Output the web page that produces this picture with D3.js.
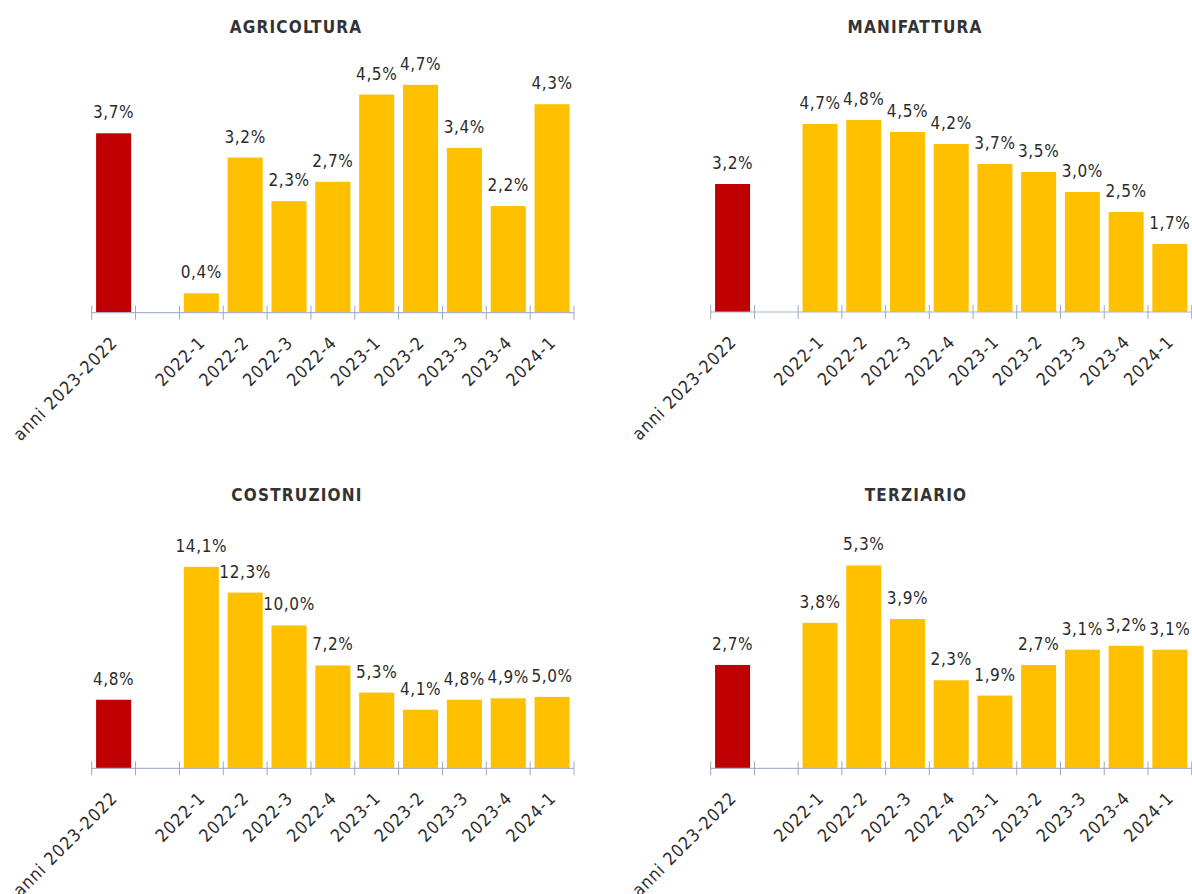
<!DOCTYPE html>
<html>
<head>
<meta charset="utf-8">
<script src="https://cdn.jsdelivr.net/npm/d3@7"></script>
<style>
  body { margin: 0; background: #fff; }
  svg text { font-family: "DejaVu Sans Condensed", "DejaVu Sans", sans-serif; fill: #2b2b2b; }
</style>
</head>
<body>
<div id="chart-area"></div>
<script>
var categories = ["anni 2023-2022", "", "2022-1", "2022-2", "2022-3", "2022-4",
                  "2023-1", "2023-2", "2023-3", "2023-4", "2024-1"];
var titles = ["AGRICOLTURA", "MANIFATTURA", "COSTRUZIONI", "TERZIARIO"];
var agricoltura = [3.7, null, 0.4, 3.2, 2.3, 2.7, 4.5, 4.7, 3.4, 2.2, 4.3];
var manifattura = [3.2, null, 4.7, 4.8, 4.5, 4.2, 3.7, 3.5, 3.0, 2.5, 1.7];
var costruzioni = [4.8, null, 14.1, 12.3, 10.0, 7.2, 5.3, 4.1, 4.8, 4.9, 5.0];
var terziario   = [2.7, null, 3.8, 5.3, 3.9, 2.3, 1.9, 2.7, 3.1, 3.2, 3.1];

var width = 1192, height = 894;
var plotH = 240;

// panel layout: axis span, baseline, y max, title position
var panels = [
  {values: agricoltura, x0: 91.7,  x1: 574,    base: 312.7, yMax: 4.95, tx: 296, ty: 33},
  {values: manifattura, x0: 710.7, x1: 1191.7, base: 312,   yMax: 6.0,  tx: 915, ty: 32.5},
  {values: costruzioni, x0: 91.7,  x1: 574,    base: 768.3, yMax: 16.8, tx: 297, ty: 501},
  {values: terziario,   x0: 710.7, x1: 1191.7, base: 768.3, yMax: 6.27, tx: 916, ty: 501}
];

var fmt = d3.format(".1f");
var pct = function(v) { return fmt(v).replace(".", ",") + "%"; };

var svg = d3.select("#chart-area").append("svg")
    .attr("width", width)
    .attr("height", height);

panels.forEach(function(p, k) {
  var g = svg.append("g");

  var x = d3.scaleBand()
      .domain(categories)
      .range([p.x0, p.x1])
      .paddingInner(0.2)
      .paddingOuter(0.1);
  var y = d3.scaleLinear()
      .domain([0, p.yMax])
      .range([p.base, p.base - plotH]);

  var data = categories.map(function(c, i) { return {cat: c, value: p.values[i], annual: i === 0}; })
      .filter(function(d) { return d.value !== null; });

  g.append("text")
      .attr("x", p.tx)
      .attr("y", p.ty)
      .attr("text-anchor", "middle")
      .attr("font-size", "17px")
      .attr("font-weight", "bold")
      .attr("letter-spacing", "1.2px")
      .style("fill", "#333")
      .text(titles[k]);

  g.selectAll("rect")
      .data(data)
      .enter()
      .append("rect")
      .attr("x", function(d) { return x(d.cat); })
      .attr("y", function(d) { return y(d.value); })
      .attr("width", x.bandwidth())
      .attr("height", function(d) { return y(0) - y(d.value); })
      .attr("fill", function(d) { return d.annual ? "#c00000" : "#ffc000"; });

  g.selectAll(".val")
      .data(data)
      .enter()
      .append("text")
      .attr("class", "val")
      .attr("x", function(d) { return x(d.cat) + x.bandwidth() / 2; })
      .attr("y", function(d) { return y(d.value) - 15; })
      .attr("text-anchor", "middle")
      .attr("font-size", "17px")
      .attr("letter-spacing", "0.6px")
      .text(function(d) { return pct(d.value); });

  // axis line with ticks on band edges
  var step = x.step();
  g.append("line")
      .attr("x1", p.x0).attr("x2", p.x1)
      .attr("y1", y(0)).attr("y2", y(0))
      .attr("stroke", "#a9b6cc")
      .attr("stroke-width", 1.2);
  g.selectAll(".tick")
      .data(d3.range(categories.length + 1))
      .enter()
      .append("line")
      .attr("class", "tick")
      .attr("x1", function(i) { return p.x0 + i * step; })
      .attr("x2", function(i) { return p.x0 + i * step; })
      .attr("y1", y(0) - 7)
      .attr("y2", y(0) + 7)
      .attr("stroke", "#a0a8b8")
      .attr("stroke-width", 1);

  g.selectAll(".xlab")
      .data(categories.filter(function(c) { return c !== ""; }))
      .enter()
      .append("text")
      .attr("class", "xlab")
      .attr("text-anchor", "end")
      .attr("font-size", "17.5px")
      .attr("letter-spacing", "1px")
      .attr("transform", function(c) {
        return "translate(" + (x(c) + x.bandwidth() / 2 + 5) + "," + (y(0) + 31) + ") rotate(-45)";
      })
      .text(function(c) { return c; });
});
</script>
</body>
</html>
